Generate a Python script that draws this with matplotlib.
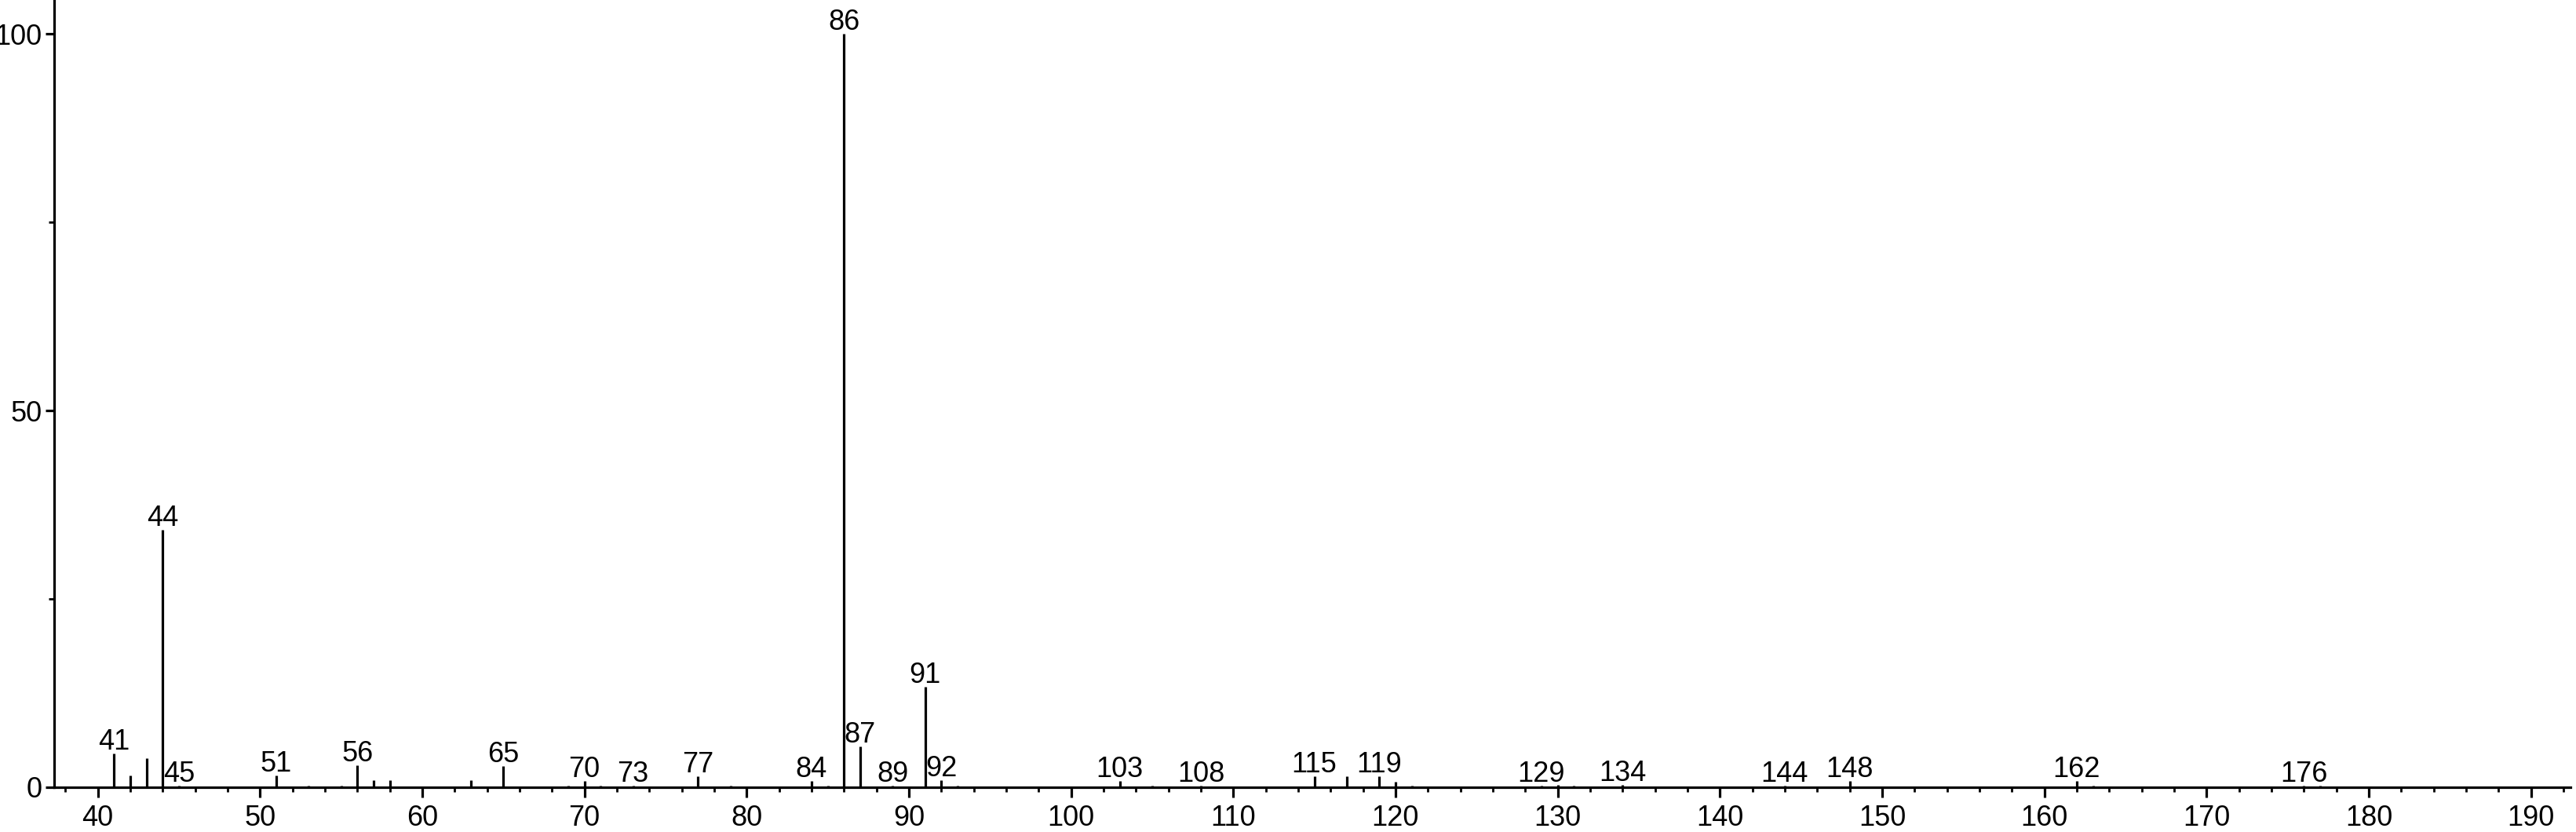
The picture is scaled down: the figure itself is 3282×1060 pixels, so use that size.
import numpy as np
import matplotlib
matplotlib.use("Agg")
import matplotlib.pyplot as plt
from matplotlib.ticker import MultipleLocator, FixedLocator

plt.rcParams['font.family'] = ['Liberation Sans', 'DejaVu Sans']

# peak list (m/z, relative intensity)
masses = [41, 42, 43, 44, 45, 51, 53, 55, 56, 57, 58, 63, 65, 67, 69, 70,
          71, 73, 75, 77, 79, 83, 84, 85, 86, 87, 89, 91, 92, 93, 103, 105,
          108, 115, 117, 119, 120, 121, 129, 130, 131, 134, 144, 148, 161,
          162, 163, 176, 177]
intens = [4.5, 1.6, 3.9, 34.2, 0.2, 1.6, 0.2, 0.25, 2.9, 0.95, 0.95, 0.9,
          2.8, 0.15, 0.2, 0.85, 0.2, 0.2, 0.15, 1.5, 0.2, 0.15, 0.85, 0.25,
          100, 5.4, 0.25, 13.3, 0.95, 0.2, 0.85, 0.2, 0.25, 1.5, 1.5, 1.5,
          0.7, 0.2, 0.2, 0.3, 0.2, 0.3, 0.2, 0.8, 0.15, 0.8, 0.2, 0.2, 0.2]

labeled = [41, 44, 45, 51, 56, 65, 70, 73, 77, 84, 86, 87, 89, 91, 92, 103,
           108, 115, 119, 129, 134, 144, 148, 162, 176]

x_major = list(range(40, 200, 10))
y_major = [0, 50, 100]
y_minor = [25, 75]

lw = 2.3
fs = 26

fig = plt.figure(figsize=(32.82, 10.6), dpi=100)
ax = fig.add_axes([0.021, 0.0538, 0.977, 0.9453])

ax.vlines(masses, 0, intens, color="black", lw=lw)

peak = dict(zip(masses, intens))
for m in labeled:
	ax.annotate(str(m), (m, peak[m]), xytext=(0, 3.5), textcoords="offset points",
				ha="center", va="baseline", fontsize=fs)

ax.set_xlim(37.31, 192.46)
ax.set_ylim(0, 104.4)

for s in ["top", "right"]:
	ax.spines[s].set_visible(False)
for s in ["left", "bottom"]:
	ax.spines[s].set_linewidth(lw)

ax.xaxis.set_major_locator(FixedLocator(x_major))
ax.xaxis.set_minor_locator(MultipleLocator(2))
ax.yaxis.set_major_locator(FixedLocator(y_major))
ax.yaxis.set_minor_locator(FixedLocator(y_minor))

ax.tick_params(axis="x", which="major", length=9, width=lw, labelsize=fs, pad=7)
ax.tick_params(axis="x", which="minor", length=4.5, width=2)
ax.tick_params(axis="y", which="major", length=8, width=lw, labelsize=fs, pad=3)
ax.tick_params(axis="y", which="minor", length=5, width=2)

plt.savefig("out.png", dpi=100)
